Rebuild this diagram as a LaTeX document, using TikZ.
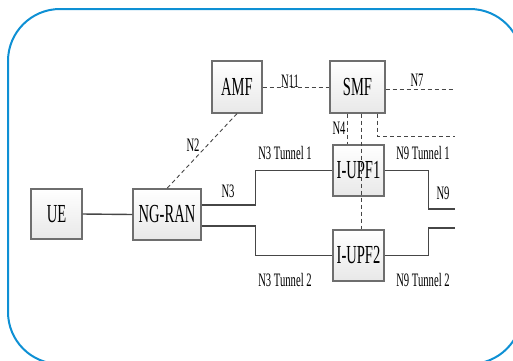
\documentclass[tikz,border=0pt]{standalone}
\usepackage{fontspec}
\setmainfont[FakeStretch=0.56]{Liberation Serif}
\usepackage{tikz}
\usetikzlibrary{positioning,calc}

\definecolor{frameblue}{RGB}{14,144,212}
\definecolor{boxline}{RGB}{110,110,110}
\definecolor{wire}{RGB}{70,70,70}

\tikzset{
  nfbox/.style={draw=boxline, line width=1.2pt, top color=white, bottom color=gray!18,
    inner sep=0pt, font=\fontsize{26}{26}\selectfont},
  ctrl/.style={draw=wire, line width=0.9pt, dash pattern=on 4pt off 3pt},
  user/.style={draw=wire, line width=1.4pt},
  lbl/.style={font=\fontsize{19}{19}\selectfont, inner sep=0pt}
}

\begin{document}
\begin{tikzpicture}[x=1pt, y=-1pt]
\useasboundingbox (0,0) rectangle (513,360);
\clip (0,0) rectangle (513,360);
% outer frame
\draw[frameblue, line width=2pt, rounded corners=52pt] (8,9) rectangle (522,364);

% network functions
\node[nfbox, minimum width=51pt, minimum height=50pt] (UE) at (56.5,214) {UE};
\node[nfbox, minimum width=68pt, minimum height=51pt] (NGRAN) at (167,214.5) {NG-RAN};
\node[nfbox, minimum width=50pt, minimum height=52pt] (AMF) at (237,87) {AMF};
\node[nfbox, minimum width=55pt, minimum height=52pt] (SMF) at (357.5,87) {SMF};
\node[nfbox, minimum width=51pt, minimum height=51pt] (UPF1) at (358.5,170.5) {I-UPF1};
\node[nfbox, minimum width=51pt, minimum height=51pt] (UPF2) at (358.5,255.5) {I-UPF2};

% open ends on the right
\coordinate (n7end) at (455,89);
\coordinate (smfout) at (455,136);
\coordinate (n9up) at (455,209);
\coordinate (n9dn) at (455,228);

% control plane
\draw[ctrl] (AMF.east) -- (SMF.west);
\draw[ctrl] (SMF.east |- n7end) -- (n7end);
\draw[ctrl] (AMF.south) -- (NGRAN.north);
\draw[ctrl] ([xshift=-10pt]SMF.south) -- ([xshift=-10pt]SMF.south |- UPF1.north);
\draw[ctrl] ([xshift=4pt]SMF.south) -- ([xshift=4pt]SMF.south |- UPF2.north);
\draw[ctrl] ([xshift=20pt]SMF.south) |- (smfout);

% user plane
\draw[user] (UE.east) -- (NGRAN.west);
\draw[user] ([yshift=9.5pt]NGRAN.east) -- ++(54,0) |- (UPF1.west);
\draw[user] ([yshift=-11.5pt]NGRAN.east) -- ++(54,0) |- (UPF2.west);
\draw[user] (UPF1.east) -- ++(44,0) |- (n9up);
\draw[user] (UPF2.east) -- ++(44,0) |- (n9dn);

% interface labels
\node[lbl] (lN11) at (290,81) {N11};
\node[lbl] (lN7) at (417,80) {N7};
\node[lbl] (lN4) at (339,128) {N4};
\node[lbl] (lN2) at (193,145) {N2};
\node[lbl] (lN3) at (228,191) {N3};
\node[lbl] (lN9) at (443,193) {N9};
\node[lbl] (lT1) at (285,153) {N3 Tunnel 1};
\node[lbl] (lT2) at (285,280) {N3 Tunnel 2};
\node[lbl] (lT3) at (423,153) {N9 Tunnel 1};
\node[lbl] (lT4) at (423,280) {N9 Tunnel 2};
\end{tikzpicture}
\end{document}
